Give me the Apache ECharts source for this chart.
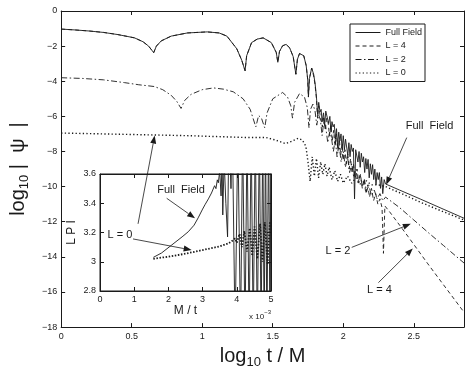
<!DOCTYPE html>
<html>
<head>
<meta charset="utf-8">
<script src="https://cdn.jsdelivr.net/npm/echarts@6/dist/echarts.min.js"></script>
<style>
html,body{margin:0;padding:0;background:#fff;}
#main{width:471px;height:374px;}
</style>
</head>
<body>
<div id="main"></div>
<script>
// main plot data: [log10 t/M, log10|psi|]
// early part is the same for the full field and L = 4
var earlyWave = [[0,-1.03],[0.1,-1.08],[0.2,-1.14],[0.3,-1.22],[0.4,-1.34],[0.47,-1.45],[0.52,-1.53],[0.58,-1.75],[0.62,-2.0],[0.656,-2.37],
    [0.675,-2.0],[0.71,-1.7],[0.78,-1.43],[0.895,-1.25],[1.035,-1.19],[1.12,-1.25],[1.175,-1.43],[1.245,-2.15],[1.28,-2.8],[1.304,-3.4],
    [1.315,-2.55],[1.35,-1.8],[1.39,-1.6],[1.432,-1.53],[1.49,-1.8],[1.525,-2.36],[1.536,-2.92],[1.548,-2.3],[1.57,-1.98],[1.595,-1.9],
    [1.62,-2.1],[1.645,-2.6],[1.664,-3.6],[1.675,-2.75],[1.69,-2.42],[1.70,-2.36],[1.72,-2.55],[1.737,-3.1],[1.748,-3.9],[1.753,-4.9],
    [1.76,-3.85],[1.776,-3.25]];
var fullLate = [[1.79,-3.6],[1.80,-4.1],[1.81,-4.9],[1.818,-5.9],[1.826,-5.2],[1.835,-5.75],[1.843,-5.6],[1.85,-6.3],[1.86,-5.8],[1.868,-6.5],
    [1.876,-5.7],[1.886,-5.75],[1.896,-6.4],[1.905,-6.0],[1.913,-6.9],[1.92,-6.3],[1.928,-6.6],[1.936,-6.45],[1.945,-7.3],[1.952,-6.7],
    [1.96,-7.7],[1.968,-6.9],[1.976,-7.4],[1.984,-7.0],[1.992,-7.9],[2.0,-7.1],[2.008,-7.9],[2.016,-7.3],[2.024,-7.2],[2.032,-8.2],
    [2.04,-7.5],[2.048,-8.3],[2.056,-7.6],[2.064,-8.0],[2.072,-7.8],[2.08,-10.7],[2.088,-7.9],[2.096,-7.85],[2.104,-8.6],[2.112,-8.0],
    [2.12,-8.9],[2.128,-8.1],[2.136,-8.6],[2.144,-8.3],[2.152,-9.2],[2.16,-8.4],[2.168,-9.0],[2.176,-8.45],[2.184,-9.5],[2.192,-8.7],
    [2.2,-9.3],[2.208,-8.75],[2.216,-9.6],[2.224,-9.0],[2.232,-9.9],[2.24,-9.2],[2.248,-9.6],[2.256,-9.2],[2.264,-10.1],[2.272,-9.45],
    [2.28,-10.4],[2.29,-9.6],[2.3,-9.85],[2.4,-10.2],[2.55,-10.72],[2.7,-11.25],[2.856,-11.8]];
var l4Late = [[1.79,-3.7],[1.80,-4.2],[1.81,-5.0],[1.818,-6.1],[1.826,-5.4],[1.835,-5.9],[1.845,-5.8],[1.852,-6.6],[1.862,-6.0],[1.872,-6.8],
    [1.882,-6.1],[1.892,-6.3],[1.902,-7.1],[1.912,-6.5],[1.922,-7.4],[1.932,-6.8],[1.942,-7.7],[1.952,-7.0],[1.962,-8.0],[1.972,-7.3],
    [1.982,-8.2],[1.992,-7.6],[2.002,-8.5],[2.012,-7.9],[2.022,-8.7],[2.032,-8.1],[2.042,-9.0],[2.052,-8.4],[2.062,-9.2],[2.072,-8.7],
    [2.085,-9.5],[2.098,-9.0],[2.11,-9.8],[2.122,-9.3],[2.135,-10.1],[2.148,-9.6],[2.16,-10.4],[2.173,-9.9],[2.186,-10.6],[2.2,-10.1],
    [2.215,-10.8],[2.23,-10.4],[2.245,-11.0],[2.26,-10.7],[2.275,-11.2],[2.285,-13.8],[2.295,-11.1],[2.33,-11.45],[2.4,-12.2],[2.46,-12.85],
    [2.6,-14.4],[2.73,-15.8],[2.856,-17.15]];
var l2Main = [[0,-3.8],[0.15,-3.84],[0.3,-3.92],[0.45,-4.08],[0.55,-4.2],[0.66,-4.3],[0.72,-4.48],[0.78,-4.8],[0.82,-5.15],[0.85,-5.55],
    [0.875,-5.1],[0.92,-4.75],[1.0,-4.48],[1.08,-4.38],[1.15,-4.45],[1.22,-4.6],[1.29,-5.0],[1.34,-5.6],[1.38,-6.6],[1.4,-5.95],
    [1.42,-6.1],[1.443,-6.65],[1.46,-5.8],[1.5,-5.0],[1.57,-4.64],[1.605,-4.9],[1.628,-5.4],[1.64,-6.1],[1.655,-5.2],[1.69,-4.7],
    [1.725,-4.9],[1.745,-5.5],[1.757,-6.65],[1.768,-5.6],[1.785,-5.3],[1.8,-5.7],[1.812,-6.5],[1.825,-5.9],[1.838,-6.2],[1.85,-7.1],
    [1.862,-6.3],[1.876,-6.6],[1.89,-7.5],[1.903,-6.9],[1.916,-7.2],[1.93,-8.0],[1.943,-7.3],[1.956,-8.3],[1.97,-7.6],[1.985,-8.6],
    [2.0,-8.0],[2.015,-8.9],[2.03,-8.3],[2.045,-9.2],[2.06,-8.7],[2.075,-9.5],[2.09,-9.0],[2.105,-9.8],[2.12,-9.3],[2.135,-10.0],
    [2.15,-9.6],[2.165,-10.3],[2.18,-9.9],[2.2,-10.5],[2.22,-10.2],[2.24,-10.7],[2.26,-10.4],[2.28,-10.8],[2.3,-10.6],[2.4,-11.2],
    [2.5,-11.9],[2.6,-12.6],[2.71,-13.35],[2.856,-14.35]];
var l0Main = [[0,-6.95],[0.3,-7.0],[0.6,-7.05],[0.9,-7.1],[1.1,-7.15],[1.3,-7.2],[1.45,-7.2],[1.52,-7.35],[1.59,-7.55],[1.64,-7.4],
    [1.68,-7.25],[1.71,-7.35],[1.735,-7.7],[1.75,-8.6],[1.765,-9.7],[1.78,-8.3],[1.795,-9.4],[1.81,-8.4],[1.825,-9.5],[1.84,-8.6],
    [1.855,-9.3],[1.87,-8.7],[1.885,-9.4],[1.9,-8.9],[1.92,-9.6],[1.94,-9.1],[1.96,-9.7],[1.98,-9.3],[2.0,-9.8],[2.03,-9.4],
    [2.06,-9.8],[2.09,-9.5],[2.12,-9.85],[2.16,-9.65],[2.2,-9.9],[2.25,-9.9],[2.3,-10.0],[2.4,-10.35],[2.55,-10.9],[2.7,-11.4],[2.856,-11.9]];

// inset: local power index vs M/t (x 10^-3)
var lpiFull = [[1.56,3.03],[1.8,3.06],[2.1,3.115],[2.4,3.17],[2.58,3.205],[2.75,3.25],[2.87,3.3],[3.0,3.36],[3.07,3.39],[3.17,3.43],
    [3.22,3.44],[3.26,3.47],[3.3,3.46],[3.35,3.52],[3.39,3.5],[3.43,3.56],[3.46,3.54],[3.5,3.62],[3.54,3.45],[3.57,3.7],
    [3.59,3.32],[3.63,3.7],[3.68,3.4],[3.73,3.17],[3.77,3.9],[3.83,3.5],[3.87,3.9],[3.95,2.5],[4.03,3.9],[4.11,2.5],
    [4.17,3.9],[4.24,2.5],[4.3,3.9],[4.36,2.5],[4.42,3.9],[4.48,2.5],[4.54,3.9],[4.6,2.5],[4.66,3.9],[4.71,2.5],
    [4.76,3.9],[4.8,2.5],[4.84,3.9],[4.88,2.5],[4.93,3.9],[4.97,2.5],[5.0,3.9]];
var lpiL0 = [[1.56,3.02],[2.0,3.035],[2.5,3.055],[3.0,3.08],[3.5,3.105],[3.75,3.125],[3.85,3.14],[3.95,3.16],[4.0,3.13],[4.08,3.19],
    [4.15,3.1],[4.22,3.21],[4.3,3.07],[4.38,3.23],[4.45,3.04],[4.52,3.24],[4.6,3.02],[4.68,3.26],[4.75,3.0],[4.82,3.27],[4.9,2.98],[4.97,3.28]];

var legendNames = ['Full Field', 'L = 4', 'L = 2', 'L = 0'];
var mainXTicks = {min: 0, max: 2.856, interval: 0.5};
var mainYTicks = {min: -18, max: 0, interval: 2};
var insetXTicks = {min: 0, max: 5, interval: 1};
var insetYTicks = {min: 2.8, max: 3.6, interval: 0.2};

var FONT = 'Liberation Sans';
var INK = '#1a1a1a';

var chart = echarts.init(document.getElementById('main'));

function minus(v) {
    return v < 0 ? '\u2212' + (-v) : '' + v;
}
function axis(ticks, extra) {
    var a = {
        type: 'value', min: ticks.min, max: ticks.max, interval: ticks.interval,
        axisLine: {show: true, onZero: false, lineStyle: {color: INK, width: 1}},
        axisTick: {show: true, inside: true, length: 4, lineStyle: {color: INK}},
        axisLabel: {show: false},
        splitLine: {show: false}
    };
    for (var k in extra) a[k] = extra[k];
    return a;
}
function tickLabels(margin, fmt, hideMax) {
    return {show: true, color: INK, fontSize: 9, fontFamily: FONT, margin: margin, showMaxLabel: !hideMax, formatter: fmt};
}

var lineCommon = {type: 'line', symbol: 'none', animation: false, color: INK};

var option = {
    animation: false,
    grid: [
        {left: 55, top: 11, right: 7, bottom: 41},
        {left: 100, top: 174, right: 200, bottom: 83, show: true, backgroundColor: '#fff', borderColor: INK, borderWidth: 1, z: 5}
    ],
    legend: {
        orient: 'vertical', left: 350, top: 24,
        data: legendNames, selectedMode: false,
        itemWidth: 25, itemHeight: 8, itemGap: 4.5,
        padding: [4, 3, 4, 5],
        borderColor: INK, borderWidth: 1, backgroundColor: '#fff',
        itemStyle: {color: 'rgba(0,0,0,0)', borderWidth: 0, opacity: 0},
        lineStyle: {width: 1},
        textStyle: {fontSize: 9, fontFamily: FONT, color: INK}
    },
    xAxis: [
        axis(mainXTicks, {gridIndex: 0, position: 'bottom',
            axisLabel: tickLabels(5, null, true),
            name: '{a|log}{b|10}{a| t / M}', nameLocation: 'middle', nameGap: 8,
            nameTextStyle: {rich: {
                a: {fontSize: 20, fontFamily: FONT, color: INK, lineHeight: 26, verticalAlign: 'middle'},
                b: {fontSize: 13, fontFamily: FONT, color: INK, lineHeight: 26, verticalAlign: 'bottom'}
            }}}),
        axis(mainXTicks, {gridIndex: 0, position: 'top'}),
        axis(insetXTicks, {gridIndex: 1, position: 'bottom',
            axisLabel: tickLabels(4),
            name: 'M / t', nameLocation: 'middle', nameGap: 13,
            nameTextStyle: {fontSize: 12, fontFamily: FONT, color: INK}, z: 6}),
        axis(insetXTicks, {gridIndex: 1, position: 'top', z: 6})
    ],
    yAxis: [
        axis(mainYTicks, {gridIndex: 0, position: 'left',
            axisLabel: tickLabels(4, minus),
            name: '{a|log}{b|10}{a| |  \u03c8  |}', nameLocation: 'middle', nameGap: 28,
            nameTextStyle: {rich: {
                a: {fontSize: 20, fontFamily: FONT, color: INK, lineHeight: 26, verticalAlign: 'middle'},
                b: {fontSize: 13, fontFamily: FONT, color: INK, lineHeight: 26, verticalAlign: 'bottom'}
            }}}),
        axis(mainYTicks, {gridIndex: 0, position: 'right'}),
        axis(insetYTicks, {gridIndex: 1, position: 'left',
            axisLabel: tickLabels(4, function (v) { return '' + (+v.toFixed(1)); }),
            name: 'L P I', nameLocation: 'middle', nameGap: 22,
            nameTextStyle: {fontSize: 12, fontFamily: FONT, color: INK}, z: 6}),
        axis(insetYTicks, {gridIndex: 1, position: 'right', z: 6})
    ],
    series: [
        Object.assign({name: 'L = 0', xAxisIndex: 0, yAxisIndex: 0, data: l0Main,
            lineStyle: {color: INK, width: 1.4, type: [1.3, 2.3]}}, lineCommon),
        Object.assign({name: 'L = 2', xAxisIndex: 0, yAxisIndex: 0, data: l2Main,
            lineStyle: {color: INK, width: 0.9, type: [6, 2.5, 1.5, 2.5]}}, lineCommon),
        Object.assign({name: 'L = 4', xAxisIndex: 0, yAxisIndex: 0, data: earlyWave.concat(l4Late),
            lineStyle: {color: INK, width: 0.9, type: [4, 3]}}, lineCommon),
        Object.assign({name: 'Full Field', xAxisIndex: 0, yAxisIndex: 0, data: earlyWave.concat(fullLate),
            lineStyle: {color: INK, width: 0.9}}, lineCommon),
        Object.assign({name: 'LPI full', xAxisIndex: 2, yAxisIndex: 2, data: lpiFull, z: 6,
            lineStyle: {color: INK, width: 0.9}}, lineCommon),
        Object.assign({name: 'LPI L0', xAxisIndex: 2, yAxisIndex: 2, data: lpiL0, z: 6,
            lineStyle: {color: INK, width: 1.8, type: [1.5, 1.6]}}, lineCommon)
    ]
};
chart.setOption(option);

// annotations, placed in data coordinates
function px(grid, p) {
    return chart.convertToPixel({gridIndex: grid}, p);
}
function arrow(p0, p1) {
    var dx = p1[0] - p0[0], dy = p1[1] - p0[1];
    var len = Math.sqrt(dx * dx + dy * dy);
    var ux = dx / len, uy = dy / len;
    var bx = p1[0] - ux * 8, by = p1[1] - uy * 8;
    return [
        {type: 'line', z: 100, shape: {x1: p0[0], y1: p0[1], x2: bx, y2: by}, style: {stroke: INK, lineWidth: 0.8}},
        {type: 'polygon', z: 100, shape: {points: [[p1[0], p1[1]], [bx - uy * 3, by + ux * 3], [bx + uy * 3, by - ux * 3]]},
            style: {fill: INK}}
    ];
}
function label(p, text, size) {
    return {type: 'text', z: 100, x: p[0], y: p[1],
        style: {text: text, fill: INK, fontSize: size || 11, fontFamily: FONT, align: 'center', verticalAlign: 'middle'}};
}

var g = [];
g.push(label(px(0, [2.612, -6.54]), 'Full  Field'));
g = g.concat(arrow(px(0, [2.45, -7.21]), px(0, [2.304, -9.89])));
g.push(label(px(0, [1.962, -13.69]), 'L = 2'));
g = g.concat(arrow(px(0, [2.06, -13.46]), px(0, [2.479, -12.12])));
g.push(label(px(0, [2.256, -15.87]), 'L = 4'));
g = g.concat(arrow(px(0, [2.249, -15.47]), px(0, [2.493, -13.52])));
g.push(label(px(1, [0.585, 3.183]), 'L = 0'));
g = g.concat(arrow(px(0, [0.545, -12.12]), px(0, [0.663, -7.09])));
g = g.concat(arrow(px(1, [0.965, 3.156]), px(1, [2.68, 3.08])));
g.push(label(px(1, [2.37, 3.49]), 'Full  Field'));
g = g.concat(arrow(px(1, [1.95, 3.434]), px(1, [2.78, 3.297])));
var corner = px(1, [5, 2.8]);
g.push({type: 'text', z: 100, x: corner[0], y: corner[1] + 18,
    style: {text: '{s|x 10}{p|\u22123}', align: 'right', verticalAlign: 'top',
        rich: {s: {fontSize: 8, fontFamily: FONT, fill: INK, lineHeight: 12, verticalAlign: 'bottom'},
               p: {fontSize: 6, fontFamily: FONT, fill: INK, lineHeight: 12, verticalAlign: 'top'}}}});
chart.setOption({graphic: g});
</script>
</body>
</html>
